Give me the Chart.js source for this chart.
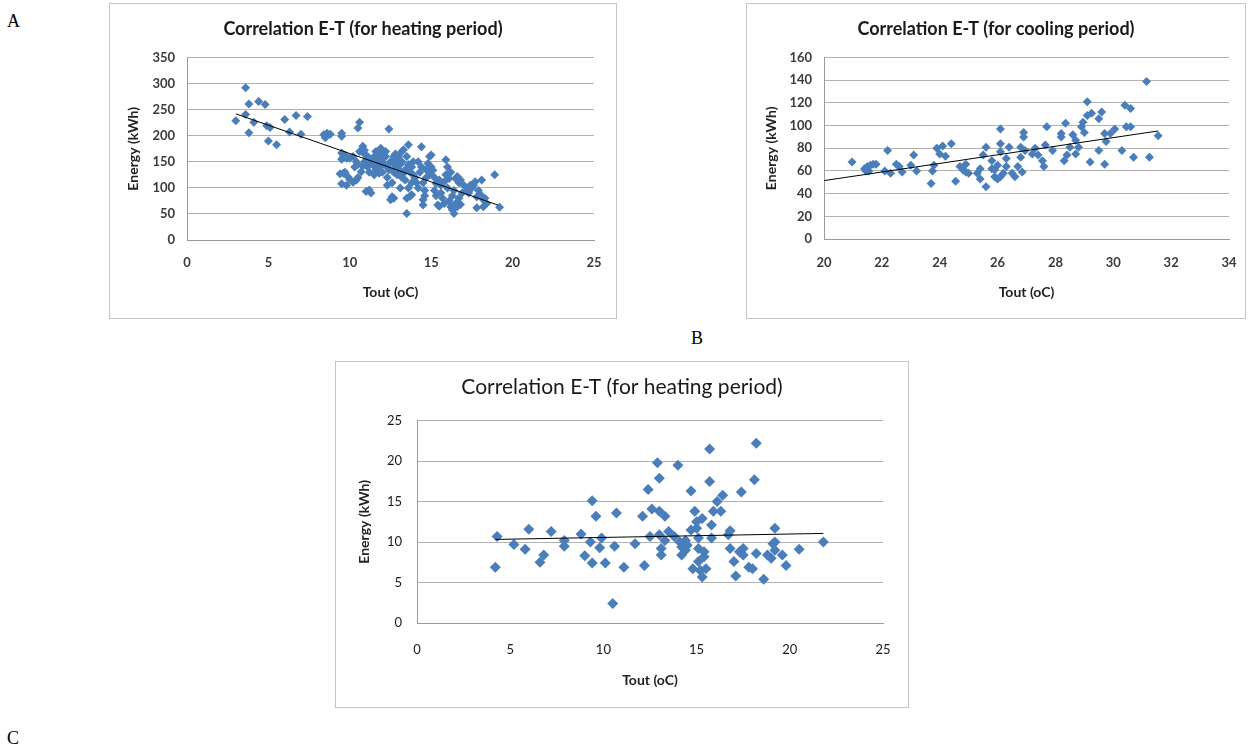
<!DOCTYPE html>
<html>
<head>
<meta charset="utf-8">
<script src="https://cdn.jsdelivr.net/npm/chart.js@4.4.1/dist/chart.umd.min.js"></script>
<style>
body { margin: 0; background: #fff; width: 1253px; height: 749px; position: relative; overflow: hidden; }
.box { position: absolute; border: 1px solid #c4c4c4; background: #fff; }
.box canvas { display: block; }
.tag { position: absolute; font-family: 'Liberation Serif', serif; font-size: 18px; color: #000; }
</style>
</head>
<body>
<div class="tag" style="left:7px;top:11px">A</div>
<div class="tag" style="left:691px;top:328px">B</div>
<div class="tag" style="left:7px;top:728px">C</div>

<div class="box" style="left:109px;top:3px;width:506px;height:314px"><canvas id="chartA"></canvas></div>
<div class="box" style="left:746px;top:3px;width:498px;height:314px"><canvas id="chartB"></canvas></div>
<div class="box" style="left:335px;top:361px;width:572px;height:345px"><canvas id="chartC"></canvas></div>

<script>
// heating period (A): [Tout, Energy]
const heatingA = [
  [3.0,229],[3.6,292],[3.8,261],[3.6,241],[3.8,206],[4.1,226],[4.4,266],[4.8,260],[4.9,219],[5.1,216],
  [5.0,190],[5.5,183],[6.0,231],[6.3,207],[6.7,239],[7.0,203],[7.4,237],[8.4,202],[8.5,196],[8.6,205],
  [8.8,203],[9.5,205],[9.5,199],
  [9.4,127],[9.5,167],[9.6,160],[9.5,155],[9.7,163],[9.6,128],[9.5,108],[9.8,105],[9.9,121],[10.0,157],[9.7,130],
  [10.0,116],[9.8,157],
  [10.2,160],[10.3,140],[10.4,115],[10.5,215],[10.6,226],[10.6,170],[10.8,180],[10.5,145],[10.7,131],[10.9,150],
  [10.2,111],[10.5,120],[10.9,165],[11.0,93],[10.8,142],[10.4,150],[10.9,172],
  [11.3,90],[11.2,130],[11.4,145],[11.5,160],[11.6,135],[11.7,150],[11.8,165],[11.9,176],[11.5,125],[11.8,140],
  [11.3,155],[12.0,130],[11.9,158],[11.6,170],[11.1,140],[11.1,160],[11.3,148],[11.6,142],[11.8,128],[11.2,96],
  [12.4,213],[12.1,145],[12.2,160],[12.3,120],[12.4,135],[12.5,77],[12.6,83],[12.5,150],[12.7,160],[12.8,140],
  [12.9,125],[12.3,105],[12.6,110],[12.0,165],[12.9,155],[12.7,130],[12.0,150],[12.2,170],[12.3,140],[12.6,150],
  [12.8,165],[12.9,145],[12.7,80],
  [13.1,145],[13.2,170],[13.3,173],[13.4,115],[13.5,51],[13.5,80],[13.6,183],[13.7,130],[13.8,87],[13.8,110],
  [13.2,120],[13.9,150],[13.0,160],[13.4,135],[13.6,100],[13.9,125],[13.1,100],[13.5,160],[13.0,135],[13.2,150],
  [13.3,128],[13.6,145],[13.8,140],[13.7,84],
  [14.4,179],[14.1,110],[14.3,130],[14.5,77],[14.5,67],[14.6,95],[14.7,120],[14.8,147],[14.9,160],[15.0,163],
  [14.2,100],[14.6,85],[14.9,125],[14.4,140],[14.0,120],[14.2,150],[14.5,110],[14.7,135],
  [15.1,134],[15.3,109],[15.4,67],[15.5,115],[15.6,90],[15.7,80],[15.9,154],[16.0,140],[15.2,95],[15.8,70],
  [15.5,65],[15.9,125],[15.3,85],[16.0,100],[15.0,140],[15.2,120],[15.6,105],[15.8,112],
  [16.1,75],[16.2,64],[16.4,51],[16.3,58],[16.5,70],[16.6,64],[16.6,122],[16.7,110],[16.8,115],[16.2,130],
  [16.9,90],[16.4,95],[16.8,68],[17.0,105],[16.5,118],[16.1,118],[16.3,85],[16.7,80],
  [17.3,90],[17.5,100],[17.7,112],[17.8,83],[17.9,95],[18.1,115],[18.2,77],[18.2,64],[18.3,80],[18.4,70],
  [18.9,125],[19.2,63],[17.6,105],[18.0,88],[17.2,95],[17.4,105],[17.8,62]
];
const trendA = [[3.0,242],[19.1,67]];

// cooling period (B)
const coolingB = [
  [20.97,68],[21.4,62],[21.5,64],[21.6,65],[21.7,66],[21.45,60],[21.55,60],[21.8,66],
  [22.2,78],[22.1,60],[22.3,58],[22.5,66],[22.6,64],[22.7,59],[23.0,65],[23.1,74],[23.2,60],
  [23.7,49],[23.75,60],[23.8,65],[23.9,80],[24.1,82],[24.0,75],[24.2,73],[24.4,84],[24.55,51],
  [24.7,64],[24.8,61],[24.9,66],[24.9,59],[25.0,58],[25.3,58],[25.4,53],[25.4,62],[25.6,46],
  [25.6,81],[25.5,74],[25.8,69],[25.8,62],[25.9,61],[26.0,53],[26.1,77],[26.1,97],[26.1,84],
  [26.2,58],[26.3,64],[26.3,71],[26.4,81],[26.0,65],[25.9,55],[26.1,55],[26.5,58],[26.6,55],
  [26.7,64],[26.8,72],[26.8,81],[26.9,94],[26.9,90],[26.95,78],[26.85,59],[27.2,75],[27.3,80],
  [27.4,74],[27.55,69],[27.6,64],[27.7,99],[27.65,83],[27.9,78],[28.2,93],[28.2,90],[28.3,69],
  [28.35,102],[28.4,74],[28.5,81],[28.6,92],[28.7,87],[28.7,75],[28.8,81],[28.9,99],[28.95,103],
  [29.0,94],[29.1,121],[29.1,109],[29.2,68],[29.25,111],[29.5,106],[29.5,78],[29.6,112],[29.7,66],
  [29.7,93],[29.75,86],[29.9,93],[30.05,97],[30.3,78],[30.4,118],[30.45,99],[30.6,115],[30.6,99],
  [30.7,72],[31.15,139],[31.25,72],[31.55,91]
];
const trendB = [[20.0,51.5],[31.55,95.3]];

// heating period (C)
const heatingC = [
  [4.2,6.9],[4.3,10.7],[5.2,9.7],[5.8,9.1],[6.0,11.6],[6.6,7.5],[6.8,8.4],[7.2,11.3],[7.9,10.2],[7.9,9.5],
  [8.8,11.0],[9.0,8.3],[9.3,10.0],[9.4,7.4],[9.4,15.1],[9.6,13.2],[9.8,9.3],[9.9,10.5],[10.1,7.4],[10.5,2.4],
  [10.6,9.5],[10.7,13.6],[11.1,6.9],[11.7,9.8],[12.1,13.2],[12.2,7.1],[12.4,16.5],[12.5,10.7],[12.6,14.1],
  [12.9,19.8],[13.0,17.9],[13.0,13.8],[13.0,10.9],[13.1,9.2],[13.1,8.4],[13.3,13.2],[13.3,10.2],[13.5,11.3],
  [14.0,19.5],[13.8,10.7],[14.1,10.0],[14.2,9.4],[14.2,8.4],[14.4,9.0],[14.4,10.2],[14.5,9.6],[14.7,16.3],
  [14.7,11.5],[14.8,6.7],[14.9,13.8],[15.0,12.5],[15.0,11.7],[15.1,10.5],[15.1,9.2],[15.1,7.6],[15.2,6.5],
  [15.3,5.7],[15.3,12.9],[15.4,8.8],[15.4,8.2],[15.5,6.7],[15.7,21.5],[15.7,17.5],[15.8,12.1],[15.8,10.5],
  [15.9,13.8],[16.1,15.0],[16.3,13.8],[16.4,15.8],[16.7,10.9],[16.8,11.4],[16.8,9.2],[17.0,7.6],[17.1,5.8],
  [17.3,8.8],[17.4,16.2],[17.5,9.2],[17.5,8.4],[17.8,6.9],[18.0,6.7],[18.1,17.7],[18.2,22.2],[18.2,8.6],
  [18.6,5.4],[18.8,8.4],[19.0,8.0],[19.1,9.8],[19.2,11.7],[19.2,10.0],[19.2,9.0],[19.6,8.4],[19.8,7.1],
  [20.5,9.1],[21.8,10.0]
];
const trendC = [[4.2,10.33],[21.8,11.07]];

const markerColor = '#4a7ebb';
const gridColor = '#b2b2b2';
const fontFamily = 'Lato, "Open Sans", sans-serif';

function toXY(list) {
    return list.map(p => ({ x: p[0], y: p[1] }));
}

// o.side: same padding left and right so the title stays centred on the box
function criarGrafico(id, pontos, tendencia, o) {
    const ctx = document.getElementById(id).getContext('2d');
    return new Chart(ctx, {
        type: 'scatter',
        data: {
            datasets: [
                {
                    type: 'line',
                    data: toXY(tendencia),
                    borderColor: '#000',
                    borderWidth: 1,
                    pointRadius: 0,
                    fill: false,
                    order: 0
                },
                {
                    data: toXY(pontos),
                    pointStyle: 'rectRot',
                    pointRadius: o.r,
                    pointHoverRadius: o.r,
                    backgroundColor: markerColor,
                    borderColor: markerColor,
                    borderWidth: 0,
                    order: 1
                }
            ]
        },
        options: {
            responsive: true,
            maintainAspectRatio: false,
            animation: false,
            events: [],
            layout: { padding: { left: o.side, right: o.side, top: 0, bottom: 0 } },
            plugins: {
                legend: { display: false },
                tooltip: { enabled: false },
                title: {
                    display: true,
                    text: o.title,
                    color: '#1a1a1a',
                    font: { family: fontFamily, size: o.titleSize, weight: o.titleWeight },
                    padding: { top: o.titleTop, bottom: o.titleBottom }
                }
            },
            scales: {
                x: {
                    type: 'linear',
                    min: o.xMin, max: o.xMax,
                    ticks: {
                        stepSize: o.xStep, padding: 0, color: o.tickColor,
                        font: { family: fontFamily, size: o.tickSize, weight: o.tickWeight }
                    },
                    grid: { display: false, drawTicks: true, tickLength: o.xTickGap },
                    border: { display: true, color: '#9a9a9a' },
                    title: {
                        display: true, text: 'Tout (oC)', color: '#222',
                        font: { family: fontFamily, size: o.axisTitleSize, weight: 'bold' },
                        padding: { top: o.xTitlePad, bottom: o.xTitlePad }
                    },
                    afterFit: s => { s.height = o.xHeight; }
                },
                y: {
                    type: 'linear',
                    min: o.yMin, max: o.yMax,
                    ticks: {
                        stepSize: o.yStep, padding: o.yTickPad, color: o.tickColor,
                        font: { family: fontFamily, size: o.tickSize, weight: o.tickWeight }
                    },
                    grid: { color: gridColor, lineWidth: 1, drawTicks: false },
                    border: { display: true, color: '#9a9a9a' },
                    title: {
                        display: true, text: 'Energy (kWh)', color: '#222',
                        font: { family: fontFamily, size: o.axisTitleSize, weight: 'bold' },
                        padding: { top: o.yTitlePad, bottom: o.yTitlePad }
                    },
                    afterFit: s => { s.width = o.yWidth; }
                }
            }
        }
    });
}

criarGrafico('chartA', heatingA, trendA, {
    title: 'Correlation E-T (for heating period)', titleSize: 18, titleWeight: 'bold', titleTop: 14, titleBottom: 18,
    xMin: 0, xMax: 25, xStep: 5, yMin: 0, yMax: 350, yStep: 50,
    r: 4.5, side: 22, xHeight: 78, yWidth: 55,
    tickSize: 13, tickWeight: 'bold', tickColor: '#3a3a3a', xTickGap: 15, yTickPad: 12,
    axisTitleSize: 14, xTitlePad: 17.5, yTitlePad: -7.4
});

criarGrafico('chartB', coolingB, trendB, {
    title: 'Correlation E-T (for cooling period)', titleSize: 18, titleWeight: 'bold', titleTop: 14, titleBottom: 18,
    xMin: 20, xMax: 34, xStep: 2, yMin: 0, yMax: 160, yStep: 20,
    r: 4.5, side: 16, xHeight: 79, yWidth: 61,
    tickSize: 13, tickWeight: 'bold', tickColor: '#3a3a3a', xTickGap: 16, yTickPad: 12,
    axisTitleSize: 14, xTitlePad: 17.5, yTitlePad: -0.4
});

criarGrafico('chartC', heatingC, trendC, {
    title: 'Correlation E-T (for heating period)', titleSize: 21, titleWeight: 'normal', titleTop: 13, titleBottom: 20.5,
    xMin: 0, xMax: 25, xStep: 5, yMin: 0, yMax: 25, yStep: 5,
    r: 5.5, side: 25, xHeight: 84, yWidth: 56,
    tickSize: 13, tickWeight: 'normal', tickColor: '#1a1a1a', xTickGap: 19, yTickPad: 15,
    axisTitleSize: 14, xTitlePad: 18.5, yTitlePad: -5
});
</script>
</body>
</html>
